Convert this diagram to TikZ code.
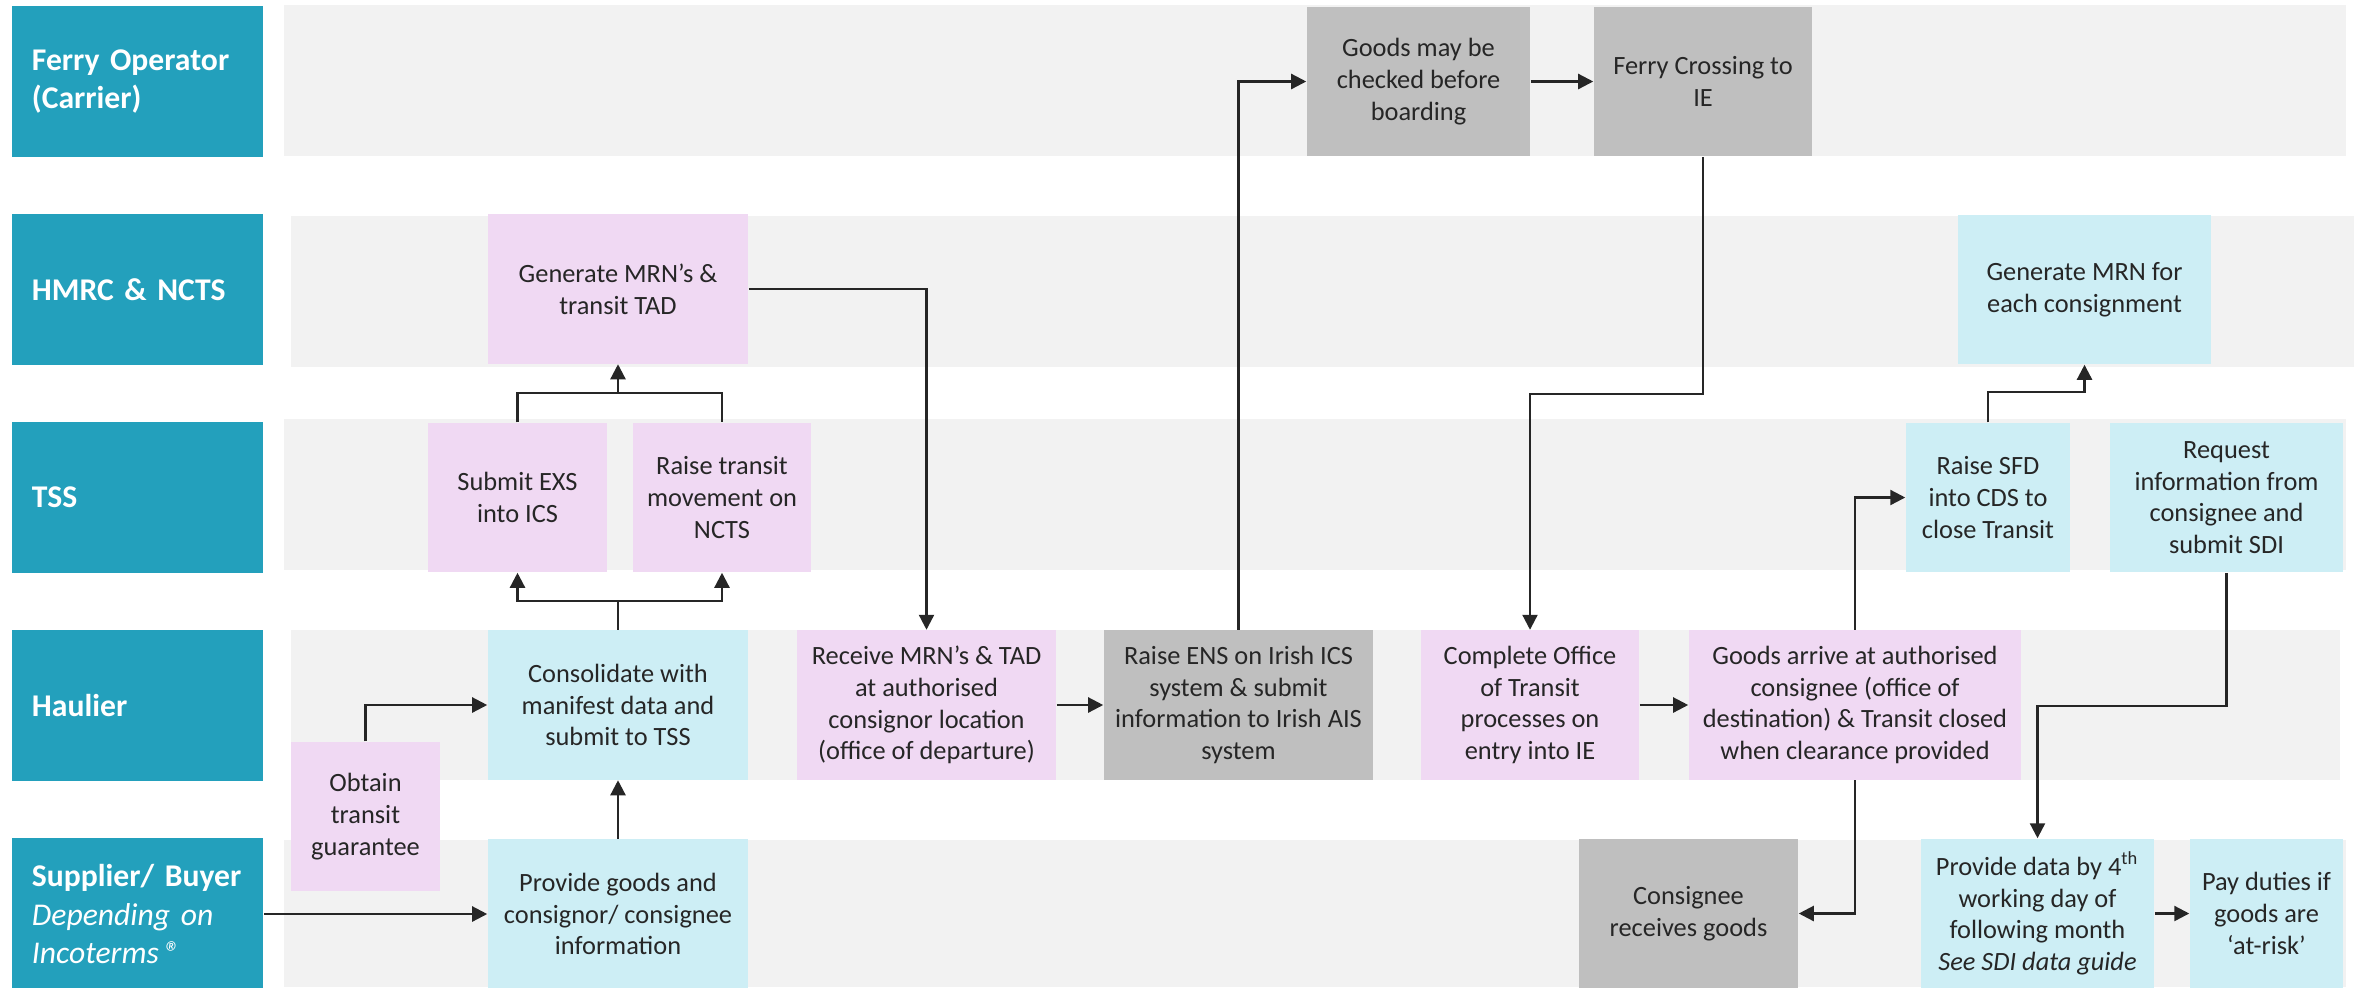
\documentclass[tikz,border=0pt]{standalone}
\usepackage{fontspec}
\setmainfont{Carlito}
\newfontfamily\actorfont{Carlito}[WordSpace=0.7]
\usetikzlibrary{arrows.meta}

\definecolor{actorteal}{HTML}{23A0BC}
\definecolor{lanegrey}{HTML}{F2F2F2}
\definecolor{steppink}{HTML}{F0D9F3}
\definecolor{stepblue}{HTML}{CDEEF5}
\definecolor{stepgrey}{HTML}{BFBFBF}
\definecolor{inkgrey}{HTML}{262626}

\tikzset{
	Actor/.style={fill=actorteal, text=white, font=\actorfont\fontsize{9}{11}\selectfont\bfseries,
		minimum width=2.51cm, minimum height=1.51cm, text width=2.11cm,
		inner xsep=0.2cm, inner ysep=0pt, align=left}
}
\tikzset{
	Step/.style={text=inkgrey, font=\fontsize{7.5}{9}\selectfont,
		minimum height=1.49cm, inner sep=0pt, align=center},
	Pink/.style={Step, fill=steppink},
	Blue/.style={Step, fill=stepblue},
	Grey/.style={Step, fill=stepgrey}
}
\tikzset{
	Link/.style={draw=inkgrey, line width=0.65pt},
	Flow/.style={Link, -{Triangle[length=0.15cm,width=0.15cm]}}
}

\begin{document}
\begin{tikzpicture}[x=0.01cm,y=-0.01cm]
\useasboundingbox (0,0) rectangle (2354,987);
%Lanes
\fill[lanegrey] (284,5) rectangle (2346,156);
\fill[lanegrey] (291,216) rectangle (2354,367);
\fill[lanegrey] (284,419) rectangle (2346,570);
\fill[lanegrey] (291,630) rectangle (2340,780);
\fill[lanegrey] (284,840) rectangle (2346,987);

%Actors
\node[Actor] (ferryop) at (137.5,81.5) {Ferry Operator\\(Carrier)};
\node[Actor] (hmrc) at (137.5,289.5) {HMRC \& NCTS};
\node[Actor] (tss) at (137.5,497.5) {TSS};
\node[Actor] (haulier) at (137.5,705.5) {Haulier};
\node[Actor] (supplier) at (137.5,914) {Supplier/ Buyer\\{\mdseries\itshape Depending on}\\{\mdseries\itshape Incoterms\,®}};

%Export side
\node[Pink, minimum width=2.60cm] (genmrn) at (618,289) {Generate MRN’s \&\\transit TAD};
\node[Pink, minimum width=1.79cm] (exs) at (517.5,497.5) {Submit EXS\\into ICS};
\node[Pink, minimum width=1.78cm] (ncts) at (722,497.5) {Raise transit\\movement on\\NCTS};
\node[Blue, minimum width=2.60cm] (consol) at (618,705) {Consolidate with\\manifest data and\\submit to TSS};
\node[Pink, minimum width=1.49cm] (guarantee) at (365.5,816.5) {Obtain\\transit\\guarantee};
\node[Blue, minimum width=2.60cm] (provide) at (618,914) {Provide goods and\\consignor/ consignee\\information};
\node[Pink, minimum width=2.59cm] (receive) at (926.5,705) {Receive MRN’s \& TAD\\at authorised\\consignor location\\(office of departure)};
\node[Grey, minimum width=2.69cm] (ens) at (1238.5,705) {Raise ENS on Irish ICS\\system \& submit\\information to Irish AIS\\system};

%Crossing
\node[Grey, minimum width=2.23cm] (checked) at (1418.5,81.5) {Goods may be\\checked before\\boarding};
\node[Grey, minimum width=2.18cm] (ferry) at (1703,81.5) {Ferry Crossing to\\IE};

%Import side
\node[Pink, minimum width=2.18cm] (office) at (1530,705) {Complete Office\\of Transit\\processes on\\entry into IE};
\node[Pink, minimum width=3.32cm] (arrive) at (1855,705) {Goods arrive at authorised\\consignee (office of\\destination) \& Transit closed\\when clearance provided};
\node[Grey, minimum width=2.19cm] (consignee) at (1688.5,913.5) {Consignee\\receives goods};
\node[Blue, minimum width=2.53cm] (mrnfor) at (2084.5,289.5) {Generate MRN for\\each consignment};
\node[Blue, minimum width=1.64cm] (sfd) at (1988,497.5) {Raise SFD\\into CDS to\\close Transit};
\node[Blue, minimum width=2.33cm] (request) at (2226.5,497.5) {Request\\information from\\consignee and\\submit SDI};
\node[Blue, minimum width=2.33cm] (sdidata) at (2037.5,913.5) {Provide data by 4\textsuperscript{th}\\working day of\\following month\\\textit{See SDI data guide}};
\node[Blue, minimum width=1.53cm] (pay) at (2266.5,913.5) {Pay duties if\\goods are\\‘at-risk’};

%Forks
\coordinate (fork1) at ([yshift=0.29cm]consol.north);
\coordinate (fork2) at ([yshift=-0.29cm]genmrn.south);

%Arrows
\draw[Flow] (supplier.east) -- (provide.west);
\draw[Flow] (provide.north) -- (consol.south);
\draw[Flow] (guarantee.north) |- (consol.west);
\draw[Link] (consol.north) -- (fork1);
\draw[Flow] (fork1) -| (exs.south);
\draw[Flow] (fork1) -| (ncts.south);
\draw[Link] (exs.north) |- (fork2) -| (ncts.north);
\draw[Flow] (fork2) -- (genmrn.south);
\draw[Flow] (genmrn.east) -| (receive.north);
\draw[Flow] (receive.east) -- (ens.west);
\draw[Flow] (ens.north) |- (checked.west);
\draw[Flow] (checked.east) -- (ferry.west);
\draw[Flow] (ferry.south) -- ++(0,237) -| (office.north);
\draw[Flow] (office.east) -- (arrive.west);
\draw[Flow] (arrive.north) |- (sfd.west);
\draw[Flow] (sfd.north) -- ++(0,-30) -| (mrnfor.south);
\draw[Flow] (request.south) -- ++(0,133) -| (sdidata.north);
\draw[Flow] (arrive.south) |- (consignee.east);
\draw[Flow] (sdidata.east) -- (pay.west);
\end{tikzpicture}
\end{document}
